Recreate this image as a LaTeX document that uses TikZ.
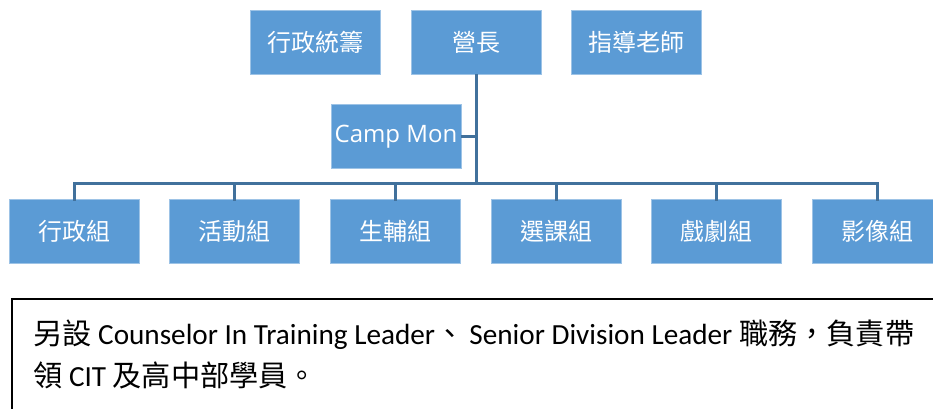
\documentclass[tikz,border=0pt]{standalone}
\usepackage{fontspec}
\setmainfont{Carlito}
\newfontfamily\cjk{Noto Sans CJK TC}
\newfontfamily\opensans{Open Sans}
\definecolor{boxblue}{HTML}{5B9BD5}
\definecolor{lineblue}{HTML}{41719C}
\tikzset{
  orgbox/.style={rectangle, fill=boxblue, draw=boxblue!60!white, line width=0.8pt,
    minimum width=130pt, minimum height=64pt, inner sep=0pt, text=white,
    font=\cjk\fontsize{24}{26}\selectfont},
  conn/.style={draw=lineblue, line width=3pt},
  notetext/.style={anchor=west, inner sep=0pt, text=black, font=\fontsize{29.2}{32}\selectfont}
}
\begin{document}
\begin{tikzpicture}[x=1pt, y=-1pt]
\useasboundingbox (0,0) rectangle (933,409);
\clip (0,0) rectangle (933,409);
% top row
\node[orgbox] (admin) at (315,42) {行政統籌};
\node[orgbox] (chief) at (476,42) {營長};
\node[orgbox] (advisor) at (636.5,42) {指導老師};
\node[orgbox, font=\opensans\fontsize{24}{26}\selectfont] (camp) at (396,136.5) {Camp Mon};
% bottom row
\node[orgbox] (g1) at (74,231) {行政組};
\node[orgbox] (g2) at (234.5,231) {活動組};
\node[orgbox] (g3) at (395.5,231) {生輔組};
\node[orgbox] (g4) at (556,231) {選課組};
\node[orgbox] (g5) at (716.5,231) {戲劇組};
\node[orgbox] (g6) at (877,231) {影像組};
\coordinate (bar) at (476,183);
% connectors
\draw[conn] (chief.south) -- (bar);
\draw[conn] (camp.east) -- (camp.east -| bar);
\draw[conn] ([yshift=-2pt]g1.north) -- (g1.north |- bar) -- (g6.north |- bar) -- ([yshift=-2pt]g6.north);
\foreach \g in {g2,g3,g4,g5}{
  \draw[conn] ([yshift=-2pt]\g.north) -- (\g.north |- bar);
}
% note box
\node[draw=black, line width=1.5pt, anchor=north west, minimum width=940pt, minimum height=130pt, inner sep=0pt] (note) at (11,298) {};
\node[notetext] (l1) at (33,335) {{\cjk 另設} Counselor In Training Leader{\cjk 、}\hspace{5pt}Senior Division Leader {\cjk 職務，負責帶}};
\node[notetext] (l2) at (33,375) {{\cjk 領} CIT {\cjk 及高中部學員。}};
\end{tikzpicture}
\end{document}
